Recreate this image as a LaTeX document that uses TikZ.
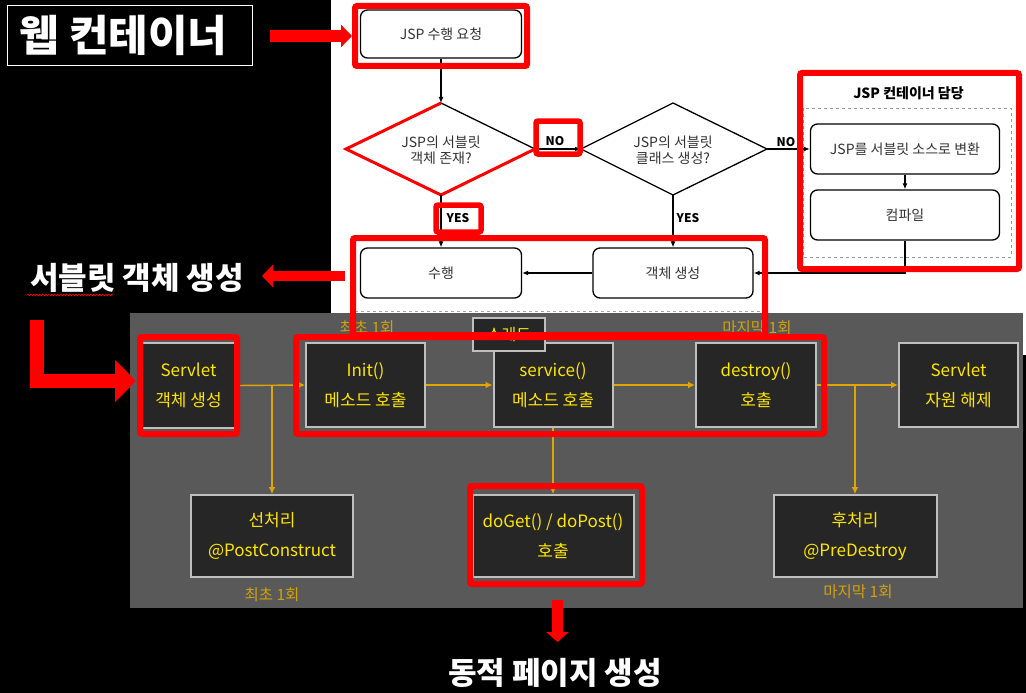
\documentclass[tikz,border=0pt]{standalone}
\usepackage{fontspec}
\setmainfont{Noto Sans CJK KR}
\usetikzlibrary{arrows.meta,decorations.pathmorphing}
\definecolor{panelgray}{HTML}{595959}
\definecolor{boxdark}{HTML}{262626}
\definecolor{boxedge}{HTML}{BFBFBF}
\definecolor{ytext}{HTML}{FFE600}
\definecolor{gold}{HTML}{E0A500}
\definecolor{goldlabel}{HTML}{D2A20A}
\definecolor{fctext}{HTML}{333333}
\definecolor{hired}{HTML}{FF0000}
\begin{document}
\begin{tikzpicture}[x=1pt,y=-1pt,
  fcbox/.style={draw=black, line width=1.3pt, rounded corners=7pt, fill=white, inner sep=0pt, text=fctext, font=\fontsize{14}{16}\selectfont, align=center},
  fctext/.style={text=fctext, font=\fontsize{14}{16}\selectfont, align=center, inner sep=0pt},
  fcline/.style={line width=1.3pt, draw=black, -{Latex[length=6pt,width=5pt]}},
  fclabel/.style={font=\fontsize{12}{14}\selectfont\bfseries, text=black, inner sep=0pt},
  redbox/.style={draw=hired, line width=6pt, rounded corners=2pt},
  redarrow/.style={draw=hired, line width=12pt, -{Triangle[length=11pt,width=22pt]}},
  pbox/.style={draw=boxedge, line width=2pt, fill=boxdark, inner sep=0pt, text=ytext, font=\fontsize{17}{30}\selectfont, align=center},
  gline/.style={draw=gold, line width=1.4pt, -{Latex[length=7pt,width=7pt]}},
  glabel/.style={text=goldlabel, font=\fontsize{15.5}{17}\selectfont, inner sep=0pt},
  bigtext/.style={text=white, font=\fontsize{31}{34}\selectfont\bfseries, inner sep=0pt}
]
% backgrounds
\fill[black] (0,0) rectangle (1026,693);
\useasboundingbox (0,0) rectangle (1026,693);
\fill[white] (331,0) rectangle (1026,313);
\fill[white] (1023,313) rectangle (1026,355);
\draw[gray!70, dashed, line width=0.8pt] (355,311) -- (763,311);

% ---------- top flowchart ----------
\node[fcbox, minimum width=161pt, minimum height=48pt] (req) at (441,34) {JSP 수행 요청};
\node[fcbox, minimum width=161pt, minimum height=50pt] (run) at (441,273) {수행};
\node[fcbox, minimum width=160pt, minimum height=50pt] (obj) at (673,273) {객체 생성};
\node[fcbox, minimum width=189pt, minimum height=50pt] (conv) at (905,149) {JSP를 서블릿 소스로 변환};
\node[fcbox, minimum width=189pt, minimum height=50pt] (comp) at (905,215) {컴파일};
\draw[gray!80, dashed, line width=0.8pt] (803,108) rectangle (1011,257);
\node[fclabel, font=\fontsize{14}{16}\selectfont\bfseries] (ctitle) at (908.5,93) {JSP 컨테이너 담당};

\coordinate (d1n) at (441,103);
\coordinate (d1s) at (441,195);
\coordinate (d1w) at (346,149);
\coordinate (d1e) at (535,149);
\coordinate (d2n) at (673,103);
\coordinate (d2s) at (673,195);
\coordinate (d2w) at (581,149);
\coordinate (d2e) at (767,149);
\draw[line width=1.3pt, fill=white] (d1n) -- (d1e) -- (d1s) -- (d1w) -- cycle;
\draw[line width=1.3pt, fill=white] (d2n) -- (d2e) -- (d2s) -- (d2w) -- cycle;
\draw[hired, line width=3pt, line join=miter] (d1n) -- (d1w) -- (d1s) -- (d1e);
\node[fctext] (d1) at (441,150) {JSP의 서블릿\\객체 존재?};
\node[fctext] (d2) at (673,150) {JSP의 서블릿\\클래스 생성?};

\draw[fcline] (req.south) -- (d1n);
\draw[fcline] (d1e) -- (d2w);
\draw[fcline] (d2e) -- (conv.west);
\draw[fcline] (d1s) -- (run.north);
\draw[fcline] (d2s) -- (obj.north);
\draw[fcline] (obj.west) -- (run.east);
\draw[fcline] (conv.south) -- (comp.north);
\draw[fcline] (comp.south) |- (obj.east);

\node[fclabel] (no1) at (555,141) {NO};
\node[fclabel] (no2) at (786,142) {NO};
\node[fclabel] (yes1) at (458,218) {YES};
\node[fclabel] (yes2) at (688,218) {YES};

% ---------- gray panel ----------
\fill[panelgray] (130,313) rectangle (1023,608);
\node[pbox, minimum width=93pt, minimum height=85pt] (sv) at (188.5,385.5) {Servlet\\객체 생성};
\node[pbox, minimum width=119pt, minimum height=84pt] (init) at (365.5,385) {Init()\\메소드 호출};
\node[pbox, minimum width=119pt, minimum height=84pt] (svc) at (553,385) {service()\\메소드 호출};
\node[pbox, minimum width=120pt, minimum height=84pt] (des) at (756,385) {destroy()\\호출};
\node[pbox, minimum width=119pt, minimum height=84pt] (rel) at (958.5,385) {Servlet\\자원 해제};
\node[pbox, minimum width=162pt, minimum height=82pt] (pre) at (272,536) {선처리\\@PostConstruct};
\node[pbox, minimum width=161pt, minimum height=82pt] (doget) at (553,536) {doGet() / doPost()\\호출};
\node[pbox, minimum width=163pt, minimum height=82pt] (post) at (855,536) {후처리\\@PreDestroy};
\node[pbox, font=\fontsize{16}{18}\selectfont, minimum width=72pt, minimum height=33pt] (thread) at (509,334.5) {스레드};

\coordinate (b1) at (272,385.5);
\coordinate (b2) at (855,385);
\draw[gline] (sv.east) -- (init.west);
\draw[gline] (b1) -- (pre.north);
\draw[gline] (init.east) -- (svc.west);
\draw[gline] (svc.east) -- (des.west);
\draw[gline] (svc.south) -- (doget.north);
\draw[gline] (des.east) -- (rel.west);
\draw[gline] (b2) -- (post.north);

\node[glabel] (l1) at (367,328) {최초 1회};
\node[glabel] (l2) at (272,595) {최초 1회};
\node[glabel] (l3) at (757,328) {마지막 1회};
\node[glabel] (l4) at (858,592) {마지막 1회};

% ---------- red highlights ----------
\draw[redbox] (355,6) rectangle (527,66);
\draw[redbox, line width=5.5pt] (536,121) rectangle (580,154);
\draw[redbox, line width=5.5pt] (436,205) rectangle (481,232);
\draw[redbox] (353,238) rectangle (765,335);
\draw[redbox] (800,73) rectangle (1019,269);
\draw[redbox] (140,337) rectangle (237,434);
\draw[redbox] (296,337) rectangle (824,434);
\draw[redbox] (470,486) rectangle (642,584);

% ---------- left labels and red arrows ----------
\node[draw=white, line width=1pt, minimum width=245pt, minimum height=60pt, inner sep=0pt] (webframe) at (129.5,36) {};
\node[text=white, font=\fontsize{43}{46}\selectfont\bfseries, inner sep=0pt] (web) at (123.5,35) {웹 컨테이너};
\node[bigtext] (svtxt) at (137,278) {서블릿 객체 생성};
\draw[hired, line width=0.7pt, decorate, decoration={snake, amplitude=0.8pt, segment length=3pt}] (27,295) -- (113,295);
\node[bigtext] (dyn) at (555,673) {동적 페이지 생성};

\coordinate (a1s) at (270,36);
\coordinate (a1e) at (352,36);
\draw[redarrow] (a1s) -- (a1e);
\coordinate (a2s) at (345,276);
\coordinate (a2e) at (262,276);
\draw[redarrow, line width=10pt] (a2s) -- (a2e);
\coordinate (a3s) at (37,320);
\coordinate (a3m) at (37,381);
\coordinate (a3e) at (136,381);
\draw[redarrow, line width=14pt, line join=miter, -{Triangle[length=21pt,width=41pt]}] (a3s) -- (a3m) -- (a3e);
\coordinate (a4s) at (557.5,600);
\coordinate (a4e) at (557.5,642);
\draw[redarrow, line width=11pt, -{Triangle[length=10pt,width=22pt]}] (a4s) -- (a4e);
\end{tikzpicture}
\end{document}
